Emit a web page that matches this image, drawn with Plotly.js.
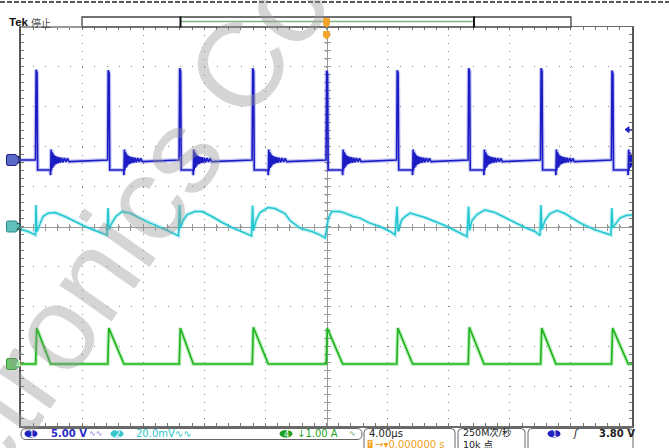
<!DOCTYPE html>
<html><head><meta charset="utf-8">
<script src="https://cdn.plot.ly/plotly-3.0.1.min.js"></script>
<style>html,body{margin:0;padding:0;background:#fff;overflow:hidden}#chart{width:669px;height:448px}</style>
</head><body><div id="chart"></div>
<script>
// ---- values read from the screen ----
// switching edges (µs) of channel 1, trigger at 0
const edgeTimes = [-19.02, -14.30, -9.62, -4.84, 0, 4.62, 9.30, 14.04, 18.68];
// CH1 (V): spike height per edge, clamp level, diode conduction time (µs)
const ch1Peak = [11.3, 11.25, 11.5, 11.5, 11.2, 11.25, 11.5, 11.5, 11.2];
const ch1Low = -1.25;
const diodeTime = [0.96, 1.04, 0.90, 1.03, 1.06, 1.02, 1.01, 0.98, 1.07];
// CH1 ringing after the diode turns off (µs after turn-off, V)
const ringT = [0, 0.03, 0.06, 0.09, 0.12, 0.16, 0.20, 0.24, 0.28, 0.33, 0.38, 0.44, 0.50, 0.57, 0.64, 0.72, 0.80, 0.90, 1.0, 1.1, 1.2];
const ringV = [-1.9, 1.3, -1.3, 1.0, -1.0, 0.8, -0.8, 0.6, -0.6, 0.5, -0.5, 0.4, -0.4, 0.35, -0.35, 0.3, -0.3, 0.25, -0.25, 0.2, -0.2];
// CH4 (A): current peak per edge
const ch4Peak = [0.9, 0.9, 0.9, 0.92, 0.9, 0.9, 0.92, 0.9, 0.9];
// CH2 (mV) ripple
const ch2T = [-20, -19.53, -19.05, -19.02, -18.96, -18.76, -18.56, -18.23, -17.77, -17.12, -16.46, -15.81, -15.16, -14.37, -14.30, -14.24, -14.04, -13.79, -13.38, -12.86, -12.21, -11.55, -10.90, -10.25, -9.69, -9.62, -9.56, -9.39, -9.13, -8.61, -8.15, -7.50, -6.84, -6.19, -5.53, -4.91, -4.84, -4.78, -4.61, -4.35, -3.83, -3.37, -2.72, -2.39, -1.73, -0.95, -0.43, -0.08, 0.12, 0.34, 0.88, 1.21, 1.75, 2.19, 2.84, 3.50, 4.16, 4.49, 4.62, 4.68, 4.92, 5.14, 5.47, 5.91, 6.45, 7.10, 7.76, 8.41, 9.20, 9.30, 9.36, 9.52, 9.85, 10.37, 11.03, 11.68, 12.34, 13.00, 13.65, 13.98, 14.04, 14.10, 14.30, 14.63, 15.09, 15.61, 16.59, 17.58, 18.23, 18.62, 18.68, 18.74, 19.21, 19.61, 20.0];
const ch2V = [-1.5, -2.5, -4.2, 10.8, -2.5, 1.8, 5, 6.7, 7, 5, 2.5, 0, -2, -4.4, 9.2, -1.5, 2, 5, 7.5, 6.7, 4.2, 1.7, -0.3, -2.5, -4.7, 10.8, -0.8, 3, 6, 7.5, 7.5, 5, 2, -0.5, -2.5, -4.7, 10.5, -2, 3, 7, 9.5, 9, 6.5, 3, -0.8, -2.5, -4.2, -5.7, 4.2, 7.5, 7.5, 6.7, 5, 4.2, 1.7, 0, -2.5, -4.2, 10, -2.5, 3.3, 5, 6.7, 5.8, 4.5, 2.5, 0.5, -2, -5, 10, -2, 3, 6, 8.3, 7, 4.5, 2, -0.5, -2.5, -4.5, 10.8, -1.5, 3, 6.5, 8, 6.5, 1.8, -1.7, -3.3, -4.2, 9.2, -0.7, 4.2, 5.5, 5.8];
// screen settings
const ch1Scale = 5, ch1Pos = 1.667;     // V/div, marker divisions above centre
const ch2Scale = 20, ch2Pos = 0;        // mV/div
const ch4Scale = 1, ch4Pos = -3.446;    // A/div
const timeScale = 4;                    // µs/div
const trigLevel = 3.80;
const watermark = 'Electronics Co';

// ---- build traces from the values ----
const ch1X = [-20], ch1Y = [0];
edgeTimes.forEach((ts, i) => {
  ch1X.push(ts - 0.03, ts + 0.01, ts + 0.07, ts + 0.11);
  ch1Y.push(0, ch1Peak[i], ch1Peak[i] - 0.4, ch1Low);
  const tr = ts + diodeTime[i];
  ch1X.push(tr - 0.03); ch1Y.push(ch1Low);
  ringT.forEach((r, j) => { if (tr + r < 20) { ch1X.push(tr + r); ch1Y.push(ringV[j]); } });
});
ch1X.push(20); ch1Y.push(0);
const ch4X = [-20], ch4Y = [0];
edgeTimes.forEach((ts, i) => {
  ch4X.push(ts - 0.02, ts + 0.05, ts + diodeTime[i]);
  ch4Y.push(0, ch4Peak[i], 0);
});
ch4X.push(20); ch4Y.push(0);

const W = 669, H = 448, L = 21, R = 37, T = 27, B = 22;
const PW = W - L - R, PH = H - T - B;
const fx = x => (x - L) / PW, fy = y => (H - B - y) / PH;
const P = (x, y) => (x - L).toFixed(2) + ',' + (H - B - y).toFixed(2);
const pshape = (d, o) => Object.assign({type: 'path', xref: 'paper', yref: 'paper', xsizemode: 'pixel', ysizemode: 'pixel', xanchor: 0, yanchor: 0, path: d, layer: 'above'}, o);
const ell = (x0, x1, y0, y1, c) => ({type: 'circle', xref: 'paper', yref: 'paper', xsizemode: 'pixel', ysizemode: 'pixel', xanchor: 0, yanchor: 0, x0: x0 - L, x1: x1 - L, y0: H - B - y1, y1: H - B - y0, fillcolor: c, line: {width: 0}});
const boxOpen = (x0, x1, y0, y1, r) => 'M' + P(x0, y1) + ' L' + P(x0, y0 + r) + ' Q' + P(x0, y0) + ' ' + P(x0 + r, y0) + ' L' + P(x1 - r, y0) + ' Q' + P(x1, y0) + ' ' + P(x1, y0 + r) + ' L' + P(x1, y1);
const boxClosed = (x0, x1, y0, y1, r) => 'M' + P(x0 + r, y0) + ' L' + P(x1 - r, y0) + ' Q' + P(x1, y0) + ' ' + P(x1, (y0 + y1) / 2) + ' Q' + P(x1, y1) + ' ' + P(x1 - r, y1) + ' L' + P(x0 + r, y1) + ' Q' + P(x0, y1) + ' ' + P(x0, (y0 + y1) / 2) + ' Q' + P(x0, y0) + ' ' + P(x0 + r, y0) + ' Z';

const rangeFor = (scale, pos) => [(-5 - pos) * scale, (5 - pos) * scale];
const hid = (r) => ({overlaying: 'y', range: r, visible: false, fixedrange: true});

const data = [
  {x: [], y: [], xaxis: 'x', yaxis: 'y', hoverinfo: 'skip', showlegend: false},
  {x: [], y: [], xaxis: 'x2', yaxis: 'y', hoverinfo: 'skip', showlegend: false},
  {x: [], y: [], xaxis: 'x3', yaxis: 'y', hoverinfo: 'skip', showlegend: false},
  {x: [], y: [], xaxis: 'x', yaxis: 'y5', hoverinfo: 'skip', showlegend: false},
  {x: [], y: [], xaxis: 'x', yaxis: 'y6', hoverinfo: 'skip', showlegend: false},
  {x: ch2T, y: ch2V, yaxis: 'y3', mode: 'lines', line: {color: 'rgba(60,210,220,0.3)', width: 4}, hoverinfo: 'skip'},
  {x: ch2T, y: ch2V, yaxis: 'y3', mode: 'lines', line: {color: '#22c6d0', width: 1.5}, name: 'CH2'},
  {x: ch4X, y: ch4Y, yaxis: 'y4', mode: 'lines', line: {color: 'rgba(40,200,40,0.3)', width: 4}, hoverinfo: 'skip'},
  {x: ch4X, y: ch4Y, yaxis: 'y4', mode: 'lines', line: {color: '#1db41d', width: 1.6}, name: 'CH4'},
  {x: ch1X, y: ch1Y, yaxis: 'y2', mode: 'lines', line: {color: 'rgba(70,70,230,0.3)', width: 4}, hoverinfo: 'skip'},
  {x: ch1X, y: ch1Y, yaxis: 'y2', mode: 'lines', line: {color: '#1c1cc4', width: 1.6}, name: 'CH1'}
];

const tickCol = '#777';
const cross = (o) => Object.assign({showline: true, linecolor: '#9a9a9a', linewidth: 1, ticklen: 3, tickcolor: '#9a9a9a', tickwidth: 1, showticklabels: false, showgrid: false, zeroline: false, layer: 'below traces', anchor: 'free', position: 0.5, fixedrange: true}, o);

const annText = (x, y, text, color, size, extra) => Object.assign({xref: 'paper', yref: 'paper', x: fx(x), y: fy(y), xanchor: 'left', yanchor: 'middle', text: text, showarrow: false, font: {family: 'DejaVu Sans, Noto Sans CJK SC', size: size, color: color}}, extra || {});
const annC = (x, y, text, color, size) => annText(x, y, text, color, size, {xanchor: 'center'});

const annotations = [
  // watermark
  {xref: 'paper', yref: 'paper', x: fx(80), y: fy(293), xanchor: 'center', yanchor: 'middle', text: watermark, showarrow: false,
   textangle: -55, font: {family: 'Liberation Sans', size: 120, color: 'rgba(150,150,150,0.40)'}},
  annText(7, 22, '<b>Tek</b>', '#111', 11, {font: {family: 'Liberation Sans', size: 11.5, color: '#111'}}),
  annText(29, 22, '停止', '#333', 10, {font: {family: 'Noto Sans CJK SC', size: 10, color: '#444'}}),
  // status bar
  annC(31, 433.5, '1', '#fff', 8.5),
  annText(49, 433.5, '<b>5.00 V</b>', '#2a2ac8', 10),
  annText(87, 433.5, '∿∿', '#7878d8', 8),
  annC(117, 433.5, '2', '#fff', 8.5),
  annText(134, 433.5, '20.0mV∿∿', '#30c4cc', 10),
  annC(286, 433.5, '4', '#fff', 8.5),
  annText(295, 433.5, '↓1.00 A', '#1f9f1f', 10),
  annText(347, 433.5, '∿', '#4aa84a', 8),
  annText(367, 433.5, '4.00µs', '#222', 10),
  annText(373, 444.5, '→▾0.000000 s', '#f0a020', 10),
  annText(369.8, 444.3, 'T', '#fff', 6.5, {xanchor: 'center'}),
  annText(461, 432.8, '250M次/秒', '#222', 9.5),
  annText(461, 444.8, '10k 点', '#222', 9.5),
  annC(554, 433.5, '1', '#fff', 8.5),
  annText(570, 433.5, '<i>ʃ</i>', '#222', 10),
  annText(597, 433.5, '<b>3.80 V</b>', '#222', 10),
  // channel markers
  {xref: 'paper', yref: 'y2', x: fx(14), y: 0, text: '1', showarrow: false, font: {family: 'DejaVu Sans', size: 8.5, color: '#1a1a6a'}},
  {xref: 'paper', yref: 'y3', x: fx(14), y: 0, text: '2', showarrow: false, font: {family: 'DejaVu Sans', size: 8.5, color: '#1a5a5a'}},
  {xref: 'paper', yref: 'y4', x: fx(14), y: 0, text: '4', showarrow: false, font: {family: 'DejaVu Sans', size: 8.5, color: '#e8ffe8'}}
];

const markerPath = 'M-13,-5.5 L-5,-5.5 L0,0 L-5,5.5 L-13,5.5 Q-14.5,5.5 -14.5,4 L-14.5,-4 Q-14.5,-5.5 -13,-5.5 Z';
const chMarker = (yref, fill, line) => ({type: 'path', xref: 'paper', yref: yref, xsizemode: 'pixel', ysizemode: 'pixel', xanchor: 0, yanchor: 0, path: markerPath, fillcolor: fill, line: {color: line, width: 1}, layer: 'above'});

const shapes = [
  // dashed frame line at very top
  {type: 'line', xref: 'paper', yref: 'paper', x0: fx(0), x1: fx(669), y0: fy(2), y1: fy(2), line: {color: '#222', width: 1.5, dash: '5px,2px'}},
  // record bar
  pshape('M' + P(82, 17) + ' L' + P(571, 17) + ' L' + P(571, 27) + ' L' + P(82, 27) + ' Z', {line: {color: '#444', width: 1.3}, fillcolor: '#fff'}),
  pshape('M' + P(181, 21.5) + ' L' + P(474, 21.5), {line: {color: '#86b386', width: 1.3}}),
  pshape('M' + P(180.5, 16.5) + ' L' + P(180.5, 27.5), {line: {color: '#111', width: 2}}),
  pshape('M' + P(474, 16.5) + ' L' + P(474, 27.5), {line: {color: '#111', width: 2}}),
  pshape('M' + P(21, 27) + ' L' + P(82, 27), {line: {color: '#999', width: 2}}),
  // trigger position markers (time 0)
  {type: 'path', xref: 'x', yref: 'paper', xsizemode: 'pixel', ysizemode: 'pixel', xanchor: 0, yanchor: 0, layer: 'above',
   path: 'M-3,' + (H - B - 18.5) + ' L3,' + (H - B - 18.5) + ' L3,' + (H - B - 24.5) + ' L0,' + (H - B - 27.5) + ' L-3,' + (H - B - 24.5) + ' Z', fillcolor: '#f4a62a', line: {color: '#e89a20', width: 0.8}},
  {type: 'path', xref: 'x', yref: 'paper', xsizemode: 'pixel', ysizemode: 'pixel', xanchor: 0, yanchor: 0, layer: 'above',
   path: 'M-3,' + (H - B - 31.5) + ' L3,' + (H - B - 31.5) + ' L3,' + (H - B - 36.5) + ' L0,' + (H - B - 39) + ' L-3,' + (H - B - 36.5) + ' Z', fillcolor: '#f4a62a', line: {color: '#e89a20', width: 0.8}},
  // trigger level arrow for CH1
  {type: 'path', xref: 'paper', yref: 'y2', xsizemode: 'pixel', ysizemode: 'pixel', xanchor: 1, yanchor: trigLevel, layer: 'above',
   path: 'M-7,0 L-3,3 L-3,-3 Z M-3,0 L0,0', fillcolor: '#2222c8', line: {color: '#2222c8', width: 1}},
  // channel ground markers
  chMarker('y2', '#5a68c8', '#23238a'),
  chMarker('y3', '#62c0bc', '#2a8a88'),
  chMarker('y4', '#6cc86c', '#2a9a2a'),
  // status bar boxes
  pshape(boxClosed(21, 362, 428.5, 439.5, 5), {line: {color: '#666', width: 1}, fillcolor: 'rgba(0,0,0,0)'}),
  pshape(boxOpen(364, 455, 428.5, 449, 4), {line: {color: '#666', width: 1}}),
  pshape(boxOpen(458, 525, 428.5, 449, 4), {line: {color: '#666', width: 1}}),
  pshape(boxOpen(528, 633, 428.5, 449, 4), {line: {color: '#666', width: 1}}),
  ell(24.5, 37.5, 430, 437.5, '#2222c0'),
  ell(110.5, 123.5, 430, 437.5, '#33c8cc'),
  ell(279.5, 292.5, 430, 437.5, '#1fa01f'),
  ell(547.5, 560.5, 430, 437.5, '#2222c0'),
  pshape('M' + P(367.5, 440) + ' L' + P(372.5, 440) + ' L' + P(372.5, 448) + ' L' + P(367.5, 448) + ' Z', {fillcolor: '#f0a020', line: {width: 0}})
];

const layout = {
  width: W, height: H, margin: {l: L, r: R, t: T, b: B, pad: 0},
  paper_bgcolor: '#fff', plot_bgcolor: '#fff', showlegend: false,
  font: {family: 'DejaVu Sans', size: 10},
  xaxis: {range: [-5 * timeScale, 5 * timeScale], dtick: timeScale, tick0: 0, showgrid: true, gridcolor: '#8a8a8a', gridwidth: 1, griddash: '1px,6.98px',
    zeroline: false, showticklabels: false, ticks: 'inside', ticklen: 3, tickcolor: tickCol,
    minor: {dtick: timeScale / 5, ticks: 'inside', ticklen: 3, tickcolor: tickCol, showgrid: false},
    showline: true, linecolor: '#6a6a6a', linewidth: 1.5, mirror: 'ticks', fixedrange: true},
  yaxis: {range: [-5, 5], dtick: 1, tick0: 0, showgrid: true, gridcolor: '#8a8a8a', gridwidth: 1, griddash: '1px,11.22px',
    zeroline: false, showticklabels: false, ticks: 'inside', ticklen: 3, tickcolor: tickCol,
    minor: {dtick: 0.2, ticks: 'inside', ticklen: 3, tickcolor: tickCol, showgrid: false},
    showline: true, linecolor: '#555', linewidth: 2, mirror: 'ticks', fixedrange: true},
  xaxis2: cross({overlaying: 'x', range: [-20, 20], dtick: 0.8, ticks: 'outside'}),
  xaxis3: cross({overlaying: 'x', range: [-20, 20], dtick: 0.8, ticks: 'inside'}),
  yaxis5: cross({overlaying: 'y', range: [-5, 5], dtick: 0.2, ticks: 'outside'}),
  yaxis6: cross({overlaying: 'y', range: [-5, 5], dtick: 0.2, ticks: 'inside'}),
  yaxis2: hid(rangeFor(ch1Scale, ch1Pos)),
  yaxis3: hid(rangeFor(ch2Scale, ch2Pos)),
  yaxis4: hid(rangeFor(ch4Scale, ch4Pos)),
  shapes: shapes,
  annotations: annotations
};
Plotly.newPlot('chart', data, layout, {staticPlot: true, displayModeBar: false});
</script></body></html>
